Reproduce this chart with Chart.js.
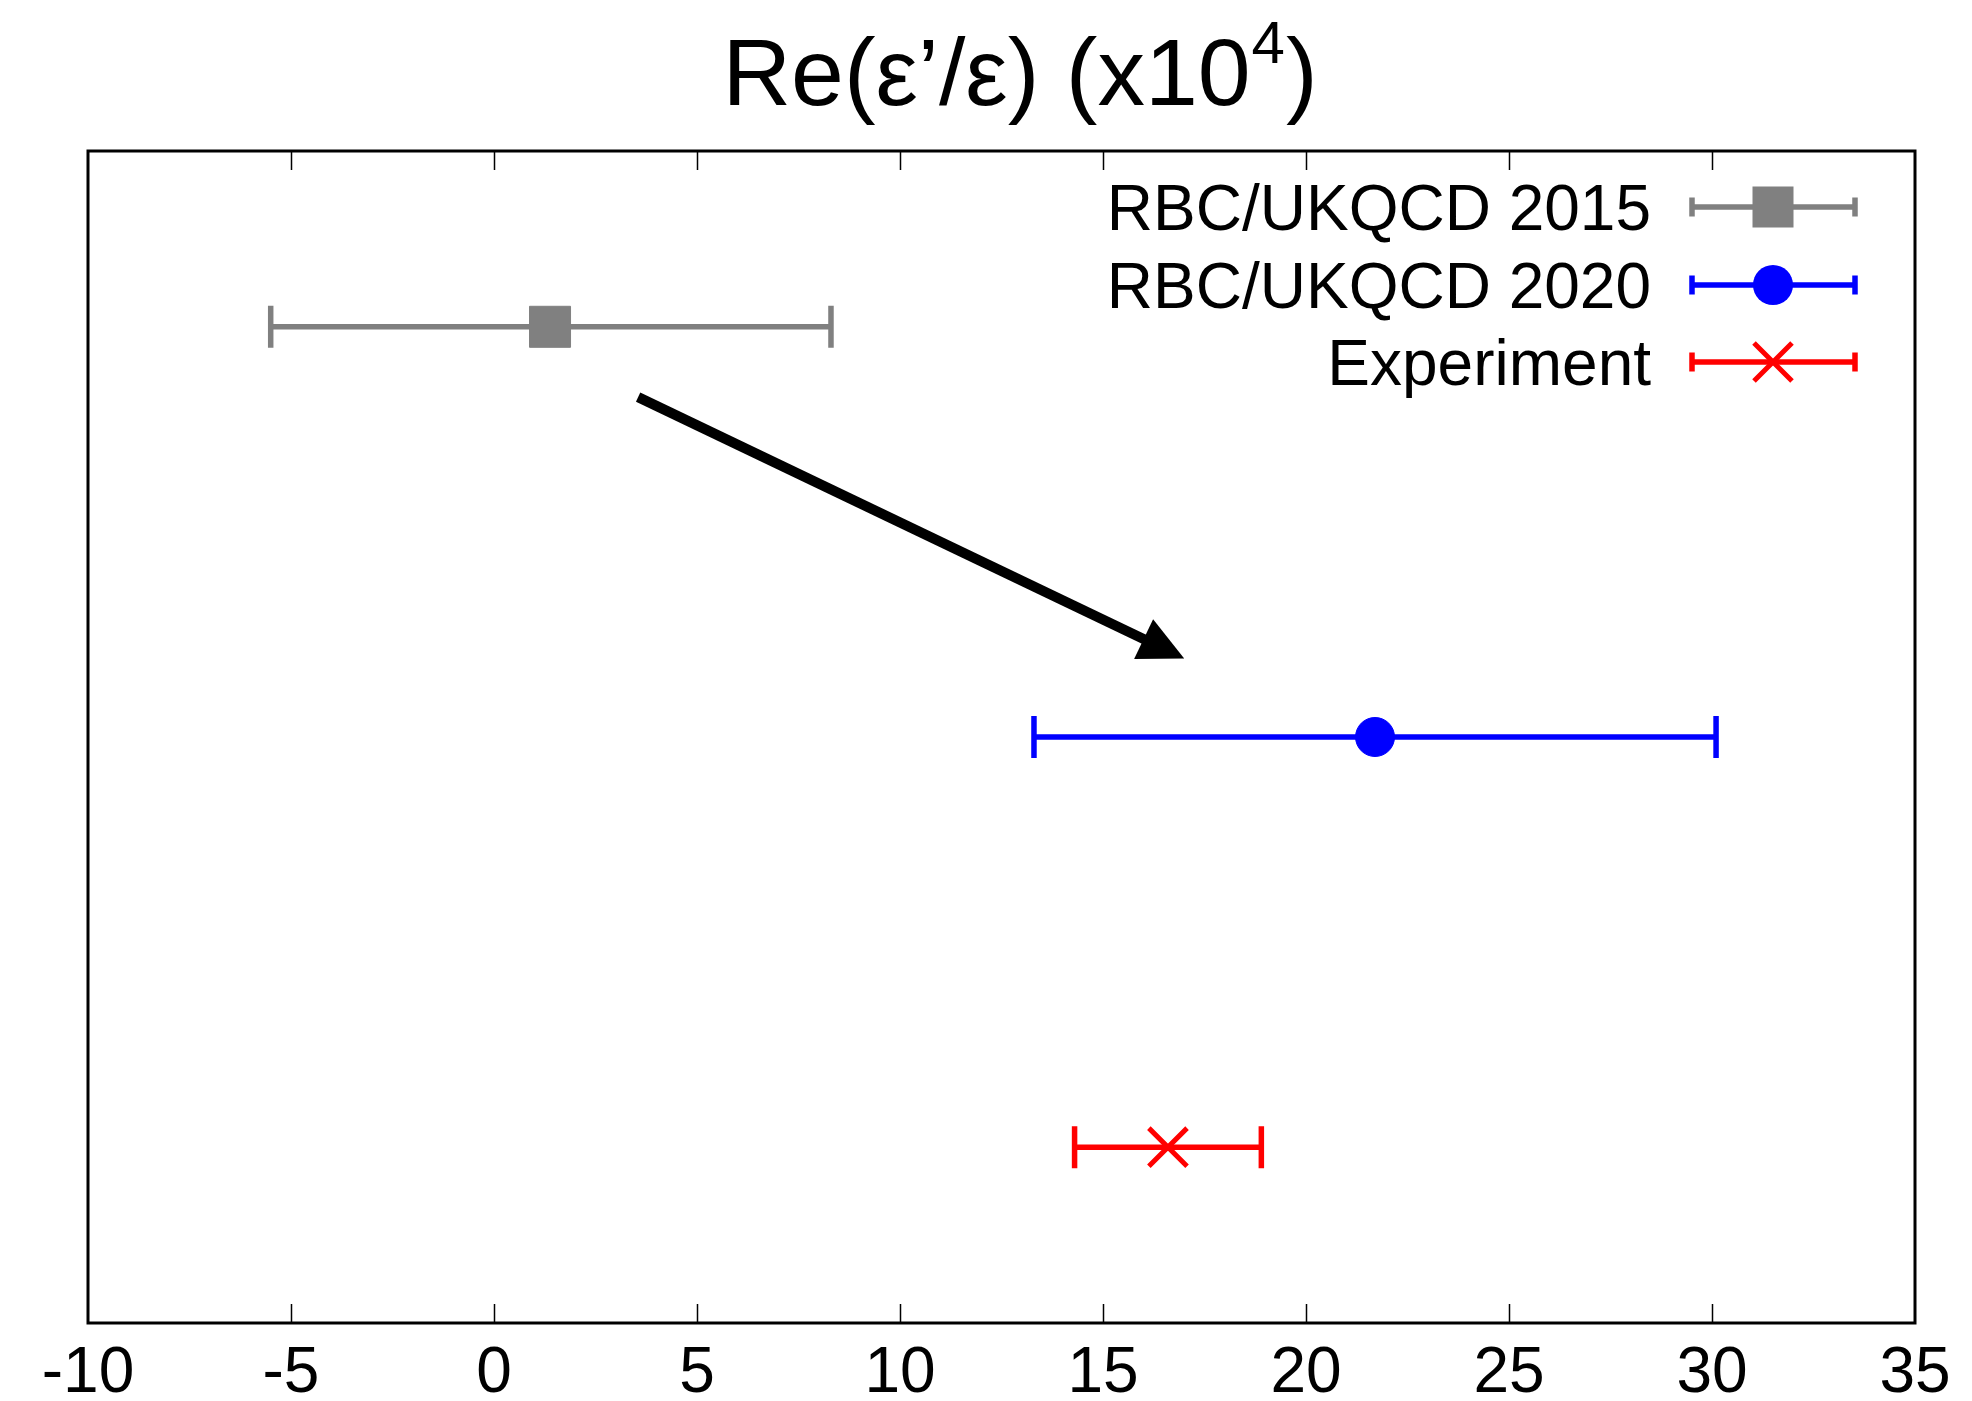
<!DOCTYPE html>
<html><head><meta charset="utf-8">
<script src="https://cdn.jsdelivr.net/npm/chart.js@4.4.1/dist/chart.umd.min.js"></script>
<style>html,body{margin:0;padding:0;background:#fff}#wrap{width:1972px;height:1401px;position:relative}</style>
</head><body><div id="wrap"><canvas id="c"></canvas></div>
<script>
const seriesNames = ['RBC/UKQCD 2015', 'RBC/UKQCD 2020', 'Experiment'];
const centralValues = [1.38, 21.7, 16.6];
const lowerValues = [-5.5, 13.3, 14.3];
const upperValues = [8.3, 30.1, 18.9];
const rowPositions = [8.5, 5.0, 1.5];
const seriesColors = ['#808080', '#0000ff', '#ff0000'];
const markerStyles = ['rect', 'circle', 'crossRot'];
const xTickValues = [-10, -5, 0, 5, 10, 15, 20, 25, 30, 35];
const arrowStart = [3.55, 7.9];
const arrowEnd = [17.0, 5.67];
const titleMain = 'Re(ε’/ε) (x10';
const titleSup = '4';
const titleEnd = ')';

const FONT = "'Liberation Sans', Helvetica, Arial, sans-serif";

function drawMarker(ctx, style, x, y, color) {
  ctx.save();
  ctx.fillStyle = color; ctx.strokeStyle = color;
  if (style === 'rect') {
    ctx.fillRect(x - 20.5, y - 20.5, 41, 41);
  } else if (style === 'circle') {
    ctx.beginPath(); ctx.arc(x, y, 20, 0, Math.PI * 2); ctx.fill();
  } else {
    ctx.lineWidth = 5; ctx.beginPath();
    ctx.moveTo(x - 19, y - 19); ctx.lineTo(x + 19, y + 19);
    ctx.moveTo(x + 19, y - 19); ctx.lineTo(x - 19, y + 19);
    ctx.stroke();
  }
  ctx.restore();
}

function drawErrBar(ctx, x1, x2, y, capH, color) {
  ctx.save();
  ctx.strokeStyle = color; ctx.lineWidth = 5.5; ctx.lineCap = 'butt';
  ctx.beginPath();
  ctx.moveTo(x1, y); ctx.lineTo(x2, y);
  ctx.moveTo(x1, y - capH / 2); ctx.lineTo(x1, y + capH / 2);
  ctx.moveTo(x2, y - capH / 2); ctx.lineTo(x2, y + capH / 2);
  ctx.stroke();
  ctx.restore();
}

const decorPlugin = {
  id: 'decor',
  beforeDatasetsDraw(chart) {
    const ctx = chart.ctx, xs = chart.scales.x, ys = chart.scales.y, a = chart.chartArea;
    ctx.save();
    ctx.strokeStyle = '#000'; ctx.lineWidth = 3;
    ctx.strokeRect(a.left, a.top, a.right - a.left, a.bottom - a.top);
    ctx.lineWidth = 1.5;
    ctx.beginPath();
    xTickValues.forEach(v => {
      const px = Math.round(xs.getPixelForValue(v)) + 0.5;
      if (px <= a.left + 2 || px >= a.right - 2) return;
      ctx.moveTo(px, a.bottom); ctx.lineTo(px, a.bottom - 19);
      ctx.moveTo(px, a.top); ctx.lineTo(px, a.top + 19);
    });
    ctx.stroke();
    ctx.restore();
    for (let i = 0; i < seriesNames.length; i++) {
      const y = ys.getPixelForValue(rowPositions[i]);
      drawErrBar(ctx, xs.getPixelForValue(lowerValues[i]), xs.getPixelForValue(upperValues[i]), y, 42, seriesColors[i]);
    }
    const sx = xs.getPixelForValue(arrowStart[0]), sy = ys.getPixelForValue(arrowStart[1]);
    const tx = xs.getPixelForValue(arrowEnd[0]), ty = ys.getPixelForValue(arrowEnd[1]);
    const dx = tx - sx, dy = ty - sy, L = Math.hypot(dx, dy), ux = dx / L, uy = dy / L;
    const headL = 45, headW = 22;
    const bx = tx - ux * headL, by = ty - uy * headL;
    ctx.save();
    ctx.strokeStyle = '#000'; ctx.fillStyle = '#000'; ctx.lineWidth = 10;
    ctx.beginPath(); ctx.moveTo(sx, sy); ctx.lineTo(bx + ux * 4, by + uy * 4); ctx.stroke();
    ctx.beginPath();
    ctx.moveTo(tx, ty);
    ctx.lineTo(bx - uy * headW, by + ux * headW);
    ctx.lineTo(bx + uy * headW, by - ux * headW);
    ctx.closePath(); ctx.fill();
    ctx.restore();
  },
  afterDraw(chart) {
    const ctx = chart.ctx;
    ctx.save();
    ctx.fillStyle = '#000'; ctx.textBaseline = 'alphabetic'; ctx.textAlign = 'left';
    ctx.font = '95px ' + FONT;
    const w1 = ctx.measureText(titleMain).width, w3 = ctx.measureText(titleEnd).width;
    ctx.font = '60px ' + FONT;
    const w2 = ctx.measureText(titleSup).width;
    const total = w1 + w2 + w3;
    let x0 = 1019 - total / 2;
    const base = 105;
    ctx.font = '95px ' + FONT;
    ctx.fillText(titleMain, x0, base);
    ctx.font = '60px ' + FONT;
    ctx.fillText(titleSup, x0 + w1 + 1, base - 42);
    ctx.font = '95px ' + FONT;
    ctx.fillText(titleEnd, x0 + w1 + w2 + 2, base);
    const rowsY = [207, 285, 362];
    ctx.font = '64px ' + FONT; ctx.textAlign = 'right'; ctx.textBaseline = 'alphabetic';
    for (let i = 0; i < seriesNames.length; i++) {
      const y = rowsY[i];
      ctx.fillStyle = '#000';
      ctx.fillText(seriesNames[i], 1651, y + 23);
      drawErrBar(ctx, 1692, 1855, y, 19, seriesColors[i]);
      drawMarker(ctx, markerStyles[i], 1773, y, seriesColors[i]);
    }
    ctx.restore();
  }
};

const datasets = seriesNames.map((name, i) => ({
  label: name,
  data: [{ x: centralValues[i], y: rowPositions[i] }],
  pointStyle: markerStyles[i],
  pointRadius: markerStyles[i] === 'rect' ? 29 : (markerStyles[i] === 'circle' ? 19.5 : 27),
  pointHoverRadius: markerStyles[i] === 'rect' ? 29 : (markerStyles[i] === 'circle' ? 19.5 : 27),
  backgroundColor: seriesColors[i],
  borderColor: seriesColors[i],
  borderWidth: markerStyles[i] === 'crossRot' ? 5 : 1,
  showLine: false
}));

new Chart(document.getElementById('c'), {
  type: 'scatter',
  data: { datasets },
  plugins: [decorPlugin],
  options: {
    responsive: true,
    maintainAspectRatio: false,
    animation: false,
    events: [],
    layout: { padding: { top: 151, left: 88, right: 57, bottom: 0 } },
    plugins: { legend: { display: false }, title: { display: false }, tooltip: { enabled: false } },
    scales: {
      x: {
        type: 'linear', min: -10, max: 35,
        afterBuildTicks: s => { s.ticks = xTickValues.map(v => ({ value: v })); },
        afterFit: s => { s.height = 78; },
        grid: { display: false, drawTicks: false },
        border: { display: false },
        ticks: { color: '#000', font: { family: FONT, size: 64 }, padding: 13, maxRotation: 0, autoSkip: false }
      },
      y: { type: 'linear', min: 0, max: 10, display: false }
    }
  }
});
</script></body></html>
